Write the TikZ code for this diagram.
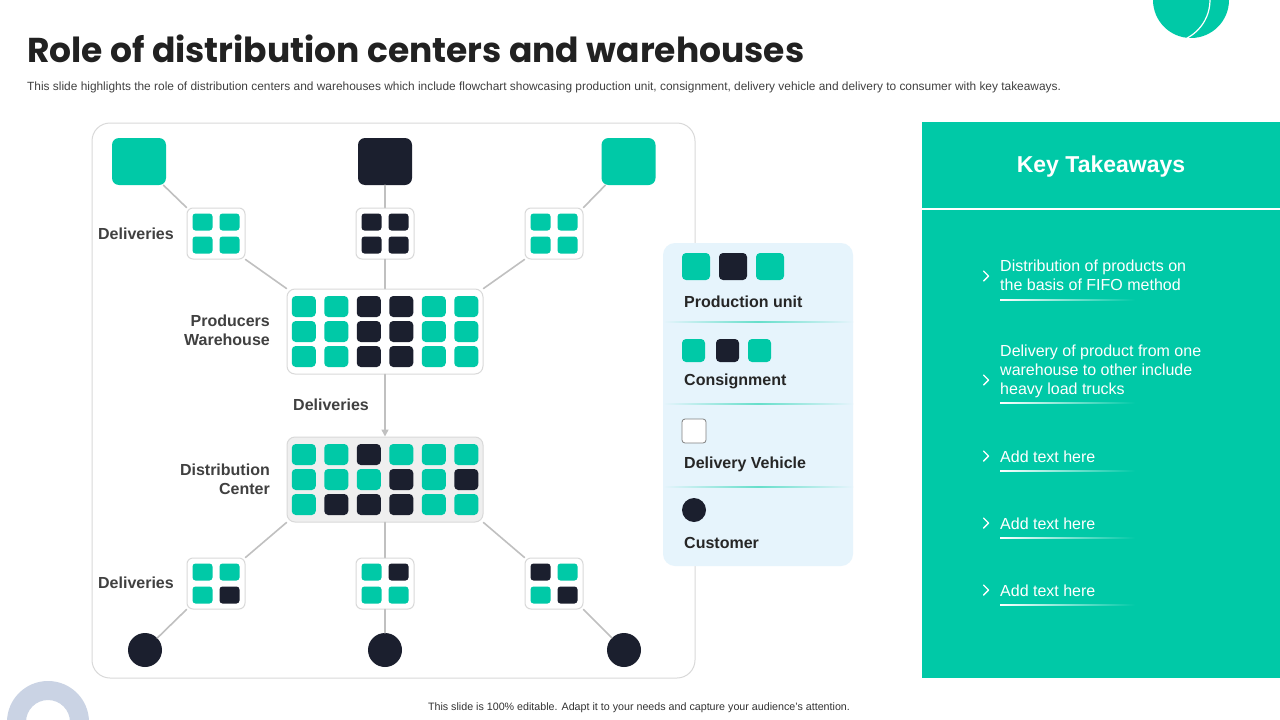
\documentclass[tikz,border=0pt]{standalone}
\usepackage{fontspec}
\setmainfont{Liberation Sans}
\newfontfamily\headfont{Poppins}
\usepackage{tikz}
\usetikzlibrary{arrows.meta}
\usepackage{xcolor}
\definecolor{mint}{HTML}{00C9A7}
\definecolor{navy}{HTML}{1B1F2E}
\definecolor{edgegray}{HTML}{C0C0C0}
\definecolor{framegray}{HTML}{D9D9D9}
\definecolor{legendbg}{HTML}{E6F4FC}
\definecolor{labelgray}{HTML}{404040}
\definecolor{ringgray}{HTML}{CAD3E4}
\definecolor{dcbg}{HTML}{EFEFEF}

\begin{document}
\begin{tikzpicture}[x=1pt,y=-1pt,>={Triangle[length=7pt,width=7pt]},line cap=round,
  bigsq/.style={rounded corners=7pt,minimum width=54pt,minimum height=47pt,inner sep=0pt},
  minibox/.style={draw=framegray,fill=white,line width=1pt,rounded corners=6pt,minimum width=58pt,minimum height=51pt,inner sep=0pt},
  mtile/.style={fill=mint,rounded corners=3pt,minimum width=20pt,minimum height=17pt,inner sep=0pt},
  ntile/.style={mtile,fill=navy},
  gridbox/.style={draw=framegray,line width=1pt,rounded corners=8pt,minimum width=196pt,minimum height=85pt,inner sep=0pt},
  mcell/.style={fill=mint,rounded corners=4pt,minimum width=24pt,minimum height=21pt,inner sep=0pt},
  ncell/.style={mcell,fill=navy},
  cust/.style={circle,fill=navy,minimum size=34pt,inner sep=0pt},
  link/.style={draw=edgegray,line width=1.6pt},
  lbl/.style={font=\bfseries\fontsize{16}{19}\selectfont,text=labelgray,inner sep=0pt},
  legtxt/.style={anchor=west,font=\bfseries\fontsize{16}{19}\selectfont,text=black!85,inner sep=0pt},
  keytxt/.style={anchor=west,align=left,font=\fontsize{16}{19}\selectfont,text=white,inner sep=0pt},
  chev/.style={white,line width=1.4pt,line join=round}]
\useasboundingbox (0,0) rectangle (1280,720);
\clip (0,0) rectangle (1280,720);
\fill[white] (0,0) rectangle (1280,720);

\fill[mint] (1191,0) circle (38pt);
\begin{scope}
\clip (1191,0) circle (38pt);
\draw[white,line width=1.2pt] (1167,0) circle (43pt);
\end{scope}
\fill[ringgray,even odd rule] (48,722) circle (41pt) (48,722) circle (22pt);

\node[anchor=base west,inner sep=0pt,text=black!87,font=\headfont\bfseries\fontsize{34.5}{38}\selectfont] (title) at (27,62) {Role of distribution centers and warehouses};
\node[anchor=west,inner sep=0pt,text=labelgray,font=\fontsize{11.9}{14}\selectfont] (sub) at (27,87) {This slide highlights the role of distribution centers and warehouses which include flowchart showcasing production unit, consignment, delivery vehicle and delivery to consumer with key takeaways.};

\draw[framegray,fill=white,line width=1pt,rounded corners=18pt] (92,123) rectangle (695,678);

\node[bigsq,fill=mint] (tl) at (139,161.5) {};
\node[bigsq,fill=navy] (tm) at (385,161.5) {};
\node[bigsq,fill=mint] (tr) at (628.5,161.5) {};

\node[minibox] (d1) at (216,233.5) {};
\node[mtile] (d1a) at (202.5,222) {};
\node[mtile] (d1b) at (229.5,222) {};
\node[mtile] (d1c) at (202.5,245) {};
\node[mtile] (d1d) at (229.5,245) {};
\node[minibox] (d2) at (385,233.5) {};
\node[ntile] (d2a) at (371.5,222) {};
\node[ntile] (d2b) at (398.5,222) {};
\node[ntile] (d2c) at (371.5,245) {};
\node[ntile] (d2d) at (398.5,245) {};
\node[minibox] (d3) at (554,233.5) {};
\node[mtile] (d3a) at (540.5,222) {};
\node[mtile] (d3b) at (567.5,222) {};
\node[mtile] (d3c) at (540.5,245) {};
\node[mtile] (d3d) at (567.5,245) {};

\node[gridbox,fill=white] (wh) at (385,331.5) {};
\node[mcell] (wh11) at (303.75,306.5) {};
\node[mcell] (wh12) at (336.25,306.5) {};
\node[ncell] (wh13) at (368.75,306.5) {};
\node[ncell] (wh14) at (401.25,306.5) {};
\node[mcell] (wh15) at (433.75,306.5) {};
\node[mcell] (wh16) at (466.25,306.5) {};
\node[mcell] (wh21) at (303.75,331.5) {};
\node[mcell] (wh22) at (336.25,331.5) {};
\node[ncell] (wh23) at (368.75,331.5) {};
\node[ncell] (wh24) at (401.25,331.5) {};
\node[mcell] (wh25) at (433.75,331.5) {};
\node[mcell] (wh26) at (466.25,331.5) {};
\node[mcell] (wh31) at (303.75,356.5) {};
\node[mcell] (wh32) at (336.25,356.5) {};
\node[ncell] (wh33) at (368.75,356.5) {};
\node[ncell] (wh34) at (401.25,356.5) {};
\node[mcell] (wh35) at (433.75,356.5) {};
\node[mcell] (wh36) at (466.25,356.5) {};

\node[gridbox,fill=dcbg] (dc) at (385,479.5) {};
\node[mcell] (dc11) at (303.75,454.5) {};
\node[mcell] (dc12) at (336.25,454.5) {};
\node[ncell] (dc13) at (368.75,454.5) {};
\node[mcell] (dc14) at (401.25,454.5) {};
\node[mcell] (dc15) at (433.75,454.5) {};
\node[mcell] (dc16) at (466.25,454.5) {};
\node[mcell] (dc21) at (303.75,479.5) {};
\node[mcell] (dc22) at (336.25,479.5) {};
\node[mcell] (dc23) at (368.75,479.5) {};
\node[ncell] (dc24) at (401.25,479.5) {};
\node[mcell] (dc25) at (433.75,479.5) {};
\node[ncell] (dc26) at (466.25,479.5) {};
\node[mcell] (dc31) at (303.75,504.5) {};
\node[ncell] (dc32) at (336.25,504.5) {};
\node[ncell] (dc33) at (368.75,504.5) {};
\node[ncell] (dc34) at (401.25,504.5) {};
\node[mcell] (dc35) at (433.75,504.5) {};
\node[mcell] (dc36) at (466.25,504.5) {};

\node[minibox] (b1) at (216,583.5) {};
\node[mtile] (b1a) at (202.5,572) {};
\node[mtile] (b1b) at (229.5,572) {};
\node[mtile] (b1c) at (202.5,595) {};
\node[ntile] (b1d) at (229.5,595) {};
\node[minibox] (b2) at (385,583.5) {};
\node[mtile] (b2a) at (371.5,572) {};
\node[ntile] (b2b) at (398.5,572) {};
\node[mtile] (b2c) at (371.5,595) {};
\node[mtile] (b2d) at (398.5,595) {};
\node[minibox] (b3) at (554,583.5) {};
\node[ntile] (b3a) at (540.5,572) {};
\node[mtile] (b3b) at (567.5,572) {};
\node[mtile] (b3c) at (540.5,595) {};
\node[ntile] (b3d) at (567.5,595) {};

\node[cust] (c1) at (145,650) {};
\node[cust] (c2) at (385,650) {};
\node[cust] (c3) at (624,650) {};

\draw[link] (tl) -- (d1.north west);
\draw[link] (tm) -- (d2);
\draw[link] (tr) -- (d3.north east);
\draw[link] (d1.south east) -- (wh.north west);
\draw[link] (d2) -- (wh);
\draw[link] (d3.south west) -- (wh.north east);
\draw[link,->,edgegray] (wh) -- (dc);
\draw[link] (dc.south west) -- (b1.north east);
\draw[link] (dc) -- (b2);
\draw[link] (dc.south east) -- (b3.north west);
\draw[link] (b1.south west) -- (c1);
\draw[link] (b2) -- (c2);
\draw[link] (b3.south east) -- (c3);

\node[lbl,left] (l1) at (174,234) {Deliveries};
\node[lbl,left,align=right] (l2) at (270,330.5) {Producers\\Warehouse};
\node[lbl] (l3) at (331,405) {Deliveries};
\node[lbl,left,align=right] (l4) at (270,479.5) {Distribution\\Center};
\node[lbl,left] (l5) at (174,583) {Deliveries};

\fill[legendbg,rounded corners=12pt] (663,243) rectangle (853,566);
\shade[left color=legendbg,right color=legendbg,middle color=mint!60] (663,321.5) rectangle (853,322.7);
\shade[left color=legendbg,right color=legendbg,middle color=mint!60] (663,403.5) rectangle (853,404.7);
\shade[left color=legendbg,right color=legendbg,middle color=mint!60] (663,486.5) rectangle (853,487.7);
\node[mcell,minimum width=28pt,minimum height=27pt] (pu1) at (696,266.5) {};
\node[ncell,minimum width=28pt,minimum height=27pt] (pu2) at (733,266.5) {};
\node[mcell,minimum width=28pt,minimum height=27pt] (pu3) at (770,266.5) {};
\node[legtxt] (pu) at (684,302) {Production unit};
\node[mcell,minimum width=23pt,minimum height=23pt] (cs1) at (693.5,350.5) {};
\node[ncell,minimum width=23pt,minimum height=23pt] (cs2) at (727.5,350.5) {};
\node[mcell,minimum width=23pt,minimum height=23pt] (cs3) at (759.5,350.5) {};
\node[legtxt] (cs) at (684,381) {Consignment};
\node[draw=gray,fill=white,line width=0.8pt,rounded corners=3pt,minimum size=24pt,inner sep=0pt] (dv1) at (694,431) {};
\node[legtxt] (dv) at (684,464) {Delivery Vehicle};
\node[circle,fill=navy,minimum size=24pt,inner sep=0pt] (cu1) at (694,510) {};
\node[legtxt] (cu) at (684,543) {Customer};

\fill[mint] (922,122) rectangle (1280,678);
\node[font=\bfseries\fontsize{23}{27}\selectfont,text=white] (kt) at (1101,167) {Key Takeaways};
\draw[white,line width=2pt,line cap=butt] (922,209) -- (1280,209);

\draw[chev] (983.5,271) -- (988.5,276) -- (983.5,281);
\node[keytxt] (k1) at (1000,275.5) {Distribution of products on\\the basis of FIFO method};
\shade[left color=white,right color=mint] (1000,299.6) rectangle (1135,300.8);
\draw[chev] (983.5,375) -- (988.5,380) -- (983.5,385);
\node[keytxt] (k2) at (1000,371) {Delivery of product from one\\warehouse to other include\\heavy load trucks};
\shade[left color=white,right color=mint] (1000,402.6) rectangle (1135,403.8);
\draw[chev] (983.5,451) -- (988.5,456) -- (983.5,461);
\node[keytxt] (k3) at (1000,457) {Add text here};
\shade[left color=white,right color=mint] (1000,470.6) rectangle (1135,471.8);
\draw[chev] (983.5,518) -- (988.5,523) -- (983.5,528);
\node[keytxt] (k4) at (1000,524) {Add text here};
\shade[left color=white,right color=mint] (1000,537.6) rectangle (1135,538.8);
\draw[chev] (983.5,585) -- (988.5,590) -- (983.5,595);
\node[keytxt] (k5) at (1000,591) {Add text here};
\shade[left color=white,right color=mint] (1000,604.6) rectangle (1135,605.8);

\node[text=black!80,font=\fontsize{10.7}{12}\selectfont,inner sep=0pt] (foot) at (639,708) {This slide is 100\% editable. Adapt it to your needs and capture your audience's attention.};
\end{tikzpicture}
\end{document}
